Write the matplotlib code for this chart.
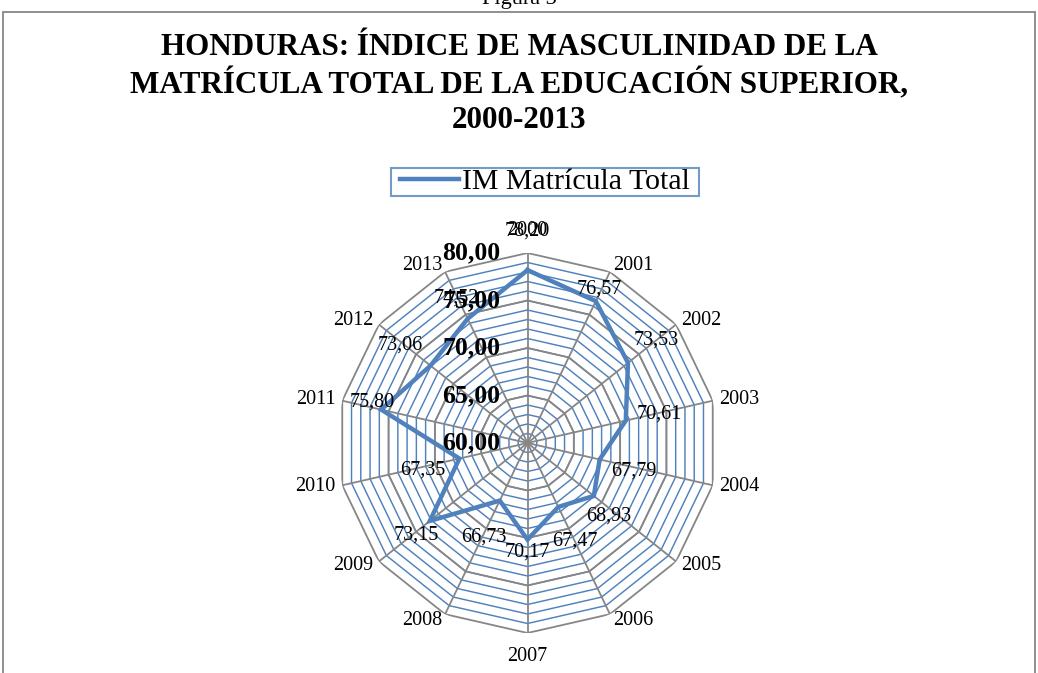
import numpy as np
import matplotlib
matplotlib.use("Agg")
import matplotlib.pyplot as plt
from matplotlib.patches import Rectangle
from matplotlib.lines import Line2D
from matplotlib.path import Path

# ---- data ----
categories = ["2000", "2001", "2002", "2003", "2004", "2005", "2006",
              "2007", "2008", "2009", "2010", "2011", "2012", "2013"]
im_total = [78.20, 76.57, 73.53, 70.61, 67.79, 68.93, 67.47,
            70.17, 66.73, 73.15, 67.35, 75.80, 73.06, 74.52]
value_labels = ["78,20", "76,57", "73,53", "70,61", "67,79", "68,93", "67,47",
                "70,17", "66,73", "73,15", "67,35", "75,80", "73,06", "74,52"]
major_ticks = [60, 65, 70, 75, 80]
major_tick_labels = ["60,00", "65,00", "70,00", "75,00", "80,00"]
minor_ticks = list(range(61, 80))
series_name = "IM Matrícula Total"
title = ("HONDURAS: ÍNDICE DE MASCULINIDAD DE LA\n"
         "MATRÍCULA TOTAL DE LA EDUCACIÓN SUPERIOR,\n2000-2013")

# label offsets (pixels) for the data labels
label_offsets = [(0, 39), (4, 12), (28, 23), (34, 7), (34, -12), (15, -20), (17, -34),
                 (0, -12), (-16, -36), (-14, -14), (-37, -12), (-9, 8), (-30, 21), (-11, 21)]

BLUE = "#4F81BD"
GRAY = "#868686"
SERIF = ["Liberation Serif", "DejaVu Serif"]

W, H, DPI = 1038, 673, 100
fig = plt.figure(figsize=(W / DPI, H / DPI), dpi=DPI)

cx, cy, R = 527.5, 443.0, 190.0
ax = fig.add_axes([(cx - R) / W, (H - cy - R) / H, 2 * R / W, 2 * R / H],
                  projection="polar")
ax.set_theta_zero_location("N")
ax.set_theta_direction(-1)
ax.set_ylim(major_ticks[0], major_ticks[-1])
ax.grid(False)
ax.set_xticks([])
ax.set_yticks([])
ax.spines["polar"].set_visible(False)
ax.patch.set_visible(False)

n = len(categories)
theta = np.arange(n) * 2 * np.pi / n
theta_c = np.append(theta, theta[0])

# minor blue rings
for lv in minor_ticks:
    ax.plot(theta_c, [lv] * (n + 1), color=BLUE, lw=1.05, zorder=1)
# major gray rings
for lv in major_ticks[1:]:
    ax.plot(theta_c, [lv] * (n + 1), color=GRAY, lw=1.3, zorder=2)
# spokes
for t in theta:
    ax.plot([t, t], [major_ticks[0], major_ticks[-1]], color=GRAY, lw=1.3, zorder=2)

# data line
vals_c = im_total + [im_total[0]]
ax.plot(theta_c, vals_c, color=BLUE, lw=3.2, zorder=4, solid_joinstyle="miter")

# category labels
for t, lab in zip(theta, categories):
    s, c = np.sin(t), np.cos(t)
    ha = "left" if s > 0.05 else ("right" if s < -0.05 else "center")
    if c > 0.95:
        va, d = "bottom", 13
    elif c < -0.95:
        va, d = "top", 14
    else:
        va, d = "center", 7
    ax.annotate(lab, xy=(t, major_ticks[-1]), xytext=(d * s, d * c),
                textcoords="offset pixels", ha=ha, va=va,
                fontsize=14.5, family=SERIF, color="black", zorder=6,
                annotation_clip=False)

# data labels
for t, v, lab, off in zip(theta, im_total, value_labels, label_offsets):
    ax.annotate(lab, xy=(t, v), xytext=off, textcoords="offset pixels",
                ha="center", va="center", fontsize=14.5, family=SERIF,
                color="black", zorder=7, annotation_clip=False)

# radial axis labels
for lv, lab in zip(major_ticks, major_tick_labels):
    ax.annotate(lab, xy=(0, lv), xytext=(-27, 0), textcoords="offset pixels",
                ha="right", va="center", fontsize=18.5, fontweight="bold",
                family=SERIF, color="black", zorder=8, annotation_clip=False)

# title
fig.text(519 / W, 1 - 84 / H, title, ha="center", va="center",
         fontsize=22.4, fontweight="bold", family=SERIF, linespacing=1.25)

# "Figura 3" partially cut caption
fig.text(519 / W, 1 - 4 / H, "Figura 3", ha="center", va="baseline",
         fontsize=16, family=SERIF)

# outer chart border
fig.patches.append(Rectangle((3 / W, -0.05), 1032 / W, (H - 12) / H + 0.05,
                             transform=fig.transFigure, fill=False,
                             edgecolor=GRAY, lw=1.3, clip_on=False))

# legend
handle = Line2D([0], [0], color=BLUE, lw=3.2)
leg = fig.legend([handle], [series_name], loc="center",
                 bbox_to_anchor=(545 / W, 1 - 182 / H),
                 prop={"family": SERIF, "size": 21.5}, frameon=True,
                 fancybox=False, borderpad=0.03, handlelength=2.0,
                 handletextpad=0.1, borderaxespad=0)


def wide_box(x0, y0, width, height, mutation_size):
    px = 8 * fig.dpi / 100.0
    verts = [(x0 - px, y0), (x0 + width + px, y0), (x0 + width + px, y0 + height),
             (x0 - px, y0 + height), (x0 - px, y0)]
    codes = [Path.MOVETO, Path.LINETO, Path.LINETO, Path.LINETO, Path.CLOSEPOLY]
    return Path(verts, codes)


leg.get_frame().set_boxstyle(wide_box)
leg.get_frame().set_edgecolor(BLUE)
leg.get_frame().set_linewidth(1.5)

fig.savefig("out.png", dpi=DPI)
